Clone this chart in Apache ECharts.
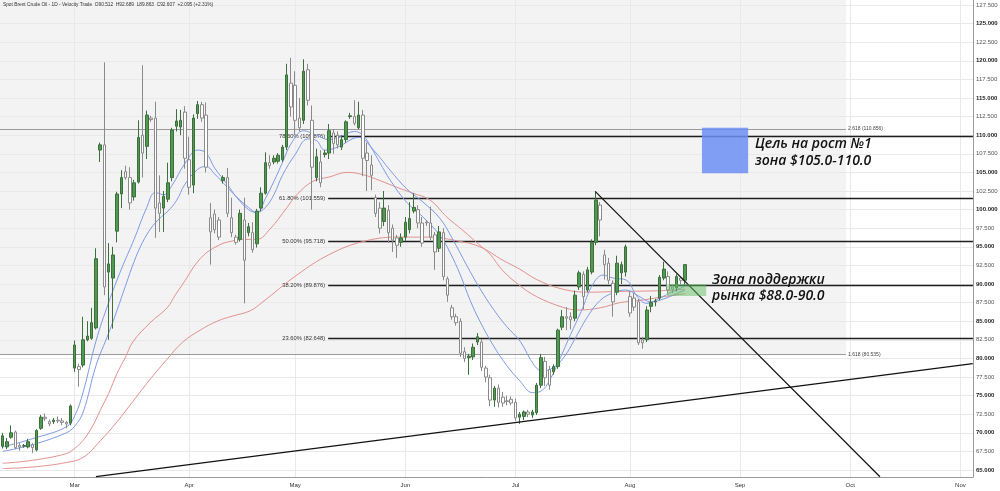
<!DOCTYPE html>
<html><head><meta charset="utf-8">
<script src="https://cdn.jsdelivr.net/npm/echarts@6/dist/echarts.min.js"></script>
<style>html,body{margin:0;padding:0;background:#fff}#c{width:1000px;height:491px}</style>
</head><body><div id="c"></div>
<script>
// ---- candles (one per session, index 0..161) ----
const opens = [68.2,68.1,69.4,70.1,68.3,68.2,68.1,68.4,67.7,70.6,72.1,71.5,71.5,71.7,71.6,71.4,71.3,78.7,78.9,79.1,82.5,82.7,84.1,108.0,108.7,91.6,90.8,97.1,102.1,105.1,104.3,101.7,103.7,110.0,108.5,112.3,112.3,100.9,100.2,101.4,104.3,111.2,111.1,113.1,106.7,103.3,112.9,114.1,112.7,98.9,99.4,98.6,103.9,104.3,98.9,96.3,96.0,98.6,96.9,96.9,95.4,100.2,102.2,106.3,106.4,106.5,106.7,108.4,117.0,116.7,112.3,112.0,118.8,112.0,104.3,106.4,107.4,107.6,110.3,110.0,108.4,109.4,112.5,112.5,111.0,112.7,107.6,106.0,101.6,100.2,98.4,99.9,97.5,96.2,95.6,96.3,97.3,99.8,100.0,98.2,98.3,98.2,96.6,94.8,96.9,90.7,86.8,85.6,85.0,80.9,80.1,80.2,82.2,82.2,78.7,77.4,74.4,76.0,74.8,74.3,74.5,74.1,72.1,72.2,72.8,72.4,72.7,76.4,79.6,78.5,78.2,78.9,84.2,85.6,85.6,85.4,89.6,91.3,89.2,91.6,95.6,100.6,93.9,92.8,90.1,88.9,91.5,91.6,88.3,88.1,87.6,82.5,82.5,87.0,87.6,88.1,90.8,91.0,89.6,89.5,90.8,90.512];
const closes = [69.6,68.8,70.0,68.0,68.1,68.3,68.8,68.0,70.3,72.1,71.9,71.2,71.7,71.6,71.4,71.2,73.6,81.8,78.5,82.5,83.0,84.8,93.4,108.7,89.6,92.7,93.9,102.1,104.3,104.3,100.9,103.6,109.7,107.6,112.7,112.1,100.2,99.5,101.8,103.6,110.7,111.9,112.0,106.9,103.0,112.3,114.1,112.3,105.7,97.0,97.3,96.3,104.3,99.5,96.9,95.6,99.5,93.2,97.7,94.6,99.8,102.2,106.3,105.9,106.9,107.3,108.4,118.1,113.8,112.0,111.0,118.6,114.7,105.7,107.1,103.6,107.6,110.6,108.9,108.7,109.4,111.8,112.6,111.6,112.7,106.9,106.6,104.6,99.5,97.5,100.2,96.9,95.9,95.2,96.2,98.3,98.8,100.3,98.2,95.5,98.2,96.3,94.3,97.0,91.0,88.5,85.6,84.8,80.7,80.0,80.3,81.5,82.9,78.8,77.5,74.4,76.0,74.1,74.0,74.2,74.0,72.0,72.5,72.8,72.5,72.8,76.4,80.1,77.4,76.4,78.9,83.8,85.6,85.4,85.2,88.5,91.5,88.3,91.9,95.6,101.3,98.6,92.6,90.5,87.6,92.8,92.6,95.0,86.1,86.9,82.1,82.1,86.5,87.5,87.7,90.9,92.0,89.2,89.3,91.0,90.5,92.607];
const lows = [67.9,67.8,69.2,67.8,67.6,68.0,67.9,67.3,67.5,70.4,71.6,70.9,71.2,71.3,71.0,70.6,71.0,78.2,76.2,78.8,82.3,82.5,83.9,106.4,88.5,82.5,84.0,95.6,100.2,104.0,100.0,101.2,103.5,104.3,106.8,111.8,96.2,97.0,97.0,101.0,103.8,110.5,110.0,105.5,102.0,102.2,112.2,111.8,105.0,92.6,96.8,95.9,103.5,99.0,96.3,95.3,95.7,87.4,96.4,94.2,94.9,99.8,102.0,105.5,106.1,106.2,106.4,108.0,112.5,110.0,110.5,111.5,114.0,100.0,103.8,103.0,107.0,106.8,107.5,108.2,108.0,109.0,112.2,111.3,110.8,104.5,102.5,102.6,99.0,96.8,97.8,95.5,94.3,93.5,95.0,95.8,96.8,99.5,97.5,95.0,97.8,95.9,91.9,94.3,90.5,87.6,85.2,84.4,80.2,79.5,77.8,79.8,81.8,78.3,76.8,73.6,73.5,73.4,73.5,73.7,73.7,71.6,71.2,71.7,72.1,72.0,72.4,76.0,76.3,75.8,77.8,78.6,83.8,83.8,83.9,85.0,89.2,86.6,88.9,91.3,95.2,96.4,90.6,90.0,85.6,88.5,90.0,91.0,85.6,86.4,81.8,81.3,82.2,86.2,87.0,87.8,90.5,88.7,88.8,89.0,89.9,89.863];
const highs = [70.0,69.3,71.0,70.3,68.6,68.5,69.2,68.6,70.5,72.4,72.6,71.8,72.0,72.2,72.0,71.6,73.8,82.4,79.3,85.6,85.0,86.8,94.8,109.0,119.8,95.5,95.0,102.4,105.3,105.9,105.7,104.0,112.0,119.4,113.3,112.6,114.5,104.6,102.5,106.3,111.0,113.5,113.4,113.9,109.8,112.8,114.6,114.5,114.4,100.9,100.0,99.0,104.6,105.6,101.6,96.6,100.0,101.6,98.2,98.3,100.1,103.0,107.7,107.3,107.3,107.6,108.7,119.6,120.4,118.6,115.0,120.2,119.6,114.0,108.2,108.0,108.0,111.5,110.8,110.5,110.0,112.0,113.0,114.7,114.5,113.4,109.0,107.3,102.0,101.0,102.5,100.6,98.0,96.6,96.8,99.0,101.0,102.2,100.6,99.0,98.6,100.4,97.0,97.8,97.5,91.0,87.2,86.0,85.4,81.5,80.6,82.0,83.4,82.6,79.0,77.8,76.3,76.5,75.5,75.0,74.9,74.6,72.8,73.0,73.1,73.1,76.7,80.6,80.2,79.0,79.2,84.0,86.5,86.9,86.2,89.1,91.8,91.7,92.3,96.0,102.4,101.0,94.6,93.5,90.5,93.8,93.0,95.3,89.0,88.8,88.0,82.9,87.0,88.4,88.0,91.2,93.0,91.7,90.0,91.3,91.0,92.689];

// ---- moving averages: [session index, price] ----
const blueFast = [[0,68.1],[7,69.2],[15,70.8],[17,72.3],[19,75.5],[22,82.3],[25,87.5],[28,92.0],[31,96.0],[34,100.3],[36,102.3],[38,102.0],[40,103.3],[43,106.2],[46,108.0],[48,107.6],[50,105.6],[53,103.4],[55,101.8],[58,100.0],[60,99.6],[62,101.5],[64,103.8],[66,106.3],[68,108.8],[71,110.6],[74,110.0],[77,109.4],[80,109.9],[83,110.5],[85,110.0],[87,108.3],[89,106.3],[91.4,104.0],[95.3,101.0],[99.2,99.0],[103.2,96.5],[105.5,94.3],[108,91.2],[110.3,87.8],[112.6,85.0],[115.7,81.8],[119,79.0],[122,77.0],[125,75.4],[127,75.6],[129,77.0],[131.5,80.0],[134,83.2],[136.5,86.3],[139.3,90.0],[141.7,91.2],[144,90.8],[147.2,90.5],[149.6,88.4],[152,87.4],[155,88.1],[158.2,89.0],[161,89.7]];
const blueSlow = [[0,67.5],[7,68.4],[15,70.0],[17,70.9],[19,72.8],[22,79.0],[25,83.4],[27,86.5],[29,89.8],[31,93.0],[33,95.6],[35,97.5],[37,98.8],[39,99.8],[41,101.2],[43,103.4],[46,105.4],[48,105.8],[50,104.8],[53,103.0],[55,101.8],[58,100.3],[60,99.6],[62,100.3],[64,102.0],[66,104.6],[69,107.4],[72,109.5],[74,109.3],[76,108.0],[79,108.4],[84,109.7],[87.5,108.0],[91.4,105.3],[95.3,102.8],[99.2,101.0],[103.2,98.8],[106.3,95.9],[109.5,92.5],[112.6,89.4],[115.8,86.6],[118.9,84.3],[122.1,82.3],[125.5,79.0],[127.5,78.3],[130,78.8],[132.5,80.2],[135,82.6],[138,85.6],[141,87.8],[144,88.8],[147,89.2],[150,88.4],[153,87.6],[156,88.0],[159,88.7],[161,89.2]];
const redFast = [[0,65.9],[7,66.3],[15,67.2],[17,67.9],[19,69.0],[21.3,71.0],[23,73.0],[25,75.3],[27,78.0],[29,80.2],[30.7,82.2],[34.8,84.8],[38.8,86.8],[40.7,88.5],[42.5,90.0],[46.6,93.4],[50.6,95.1],[54.3,95.8],[58.4,96.0],[60,96.0],[63.1,97.4],[67.1,100.3],[69.4,102.0],[73.2,103.8],[77.2,104.4],[81.2,105.0],[85,104.7],[89,103.9],[93,103.0],[96.8,102.2],[100.8,101.3],[104.8,99.0],[108.6,97.2],[112.6,95.2],[115,94.0],[118,91.8],[122,89.8],[126,88.3],[132,86.9],[136,86.5],[141,86.8],[145.7,87.5],[150.4,87.8],[155,88.2],[161,88.7]];
const redSlow = [[0,65.2],[7,65.4],[15,66.0],[19,66.7],[23,68.9],[27,71.5],[30.7,74.2],[34.8,77.2],[38.8,79.9],[42.5,82.2],[46.6,83.8],[50.6,85.0],[54.3,85.7],[58.4,86.4],[61.4,87.6],[69.4,91.2],[77.2,94.0],[85,95.7],[93,96.3],[100.8,96.3],[107.2,95.8],[112.6,95.0],[118,93.2],[122,92.0],[126,90.6],[131.5,89.4],[137.9,88.9],[145.7,89.0],[155,89.1],[161,89.3]];

// ---- axes ----
const monthLabels = ['Mar','Apr','May','Jun','Jul','Aug','Sep','Oct','Nov'];
const monthStartIndex = [17,44,69,95,121,148,174,200,226];
const priceTicks = [65,67.5,70,72.5,75,77.5,80,82.5,85,87.5,90,92.5,95,97.5,100,102.5,105,107.5,110,112.5,115,117.5,120,122.5,125,127.5];
const xRange = [-0.637, 228.96];
const yRange = [64.06, 128.17];

// ---- drawings ----
const fibLabels = ['78.60%','61.80%','50.00%','38.20%','23.60%'];
const fibValues = [109.876,101.559,95.718,89.876,82.648];
const fibStart = 76.8;
const extLabels = ['2.618','1.618'];
const extValues = [110.856,80.535];
const extEnd = 199.0;
const downTrend = [[139.8,102.45],[207.0,64.1]];
const upTrend = [[22,64.1],[228.9,79.3]];
const targetZone = [[165.0,111.0],[175.9,104.9]];
const supportZone = [[156.8,90.0],[166.0,88.4]];
const targetText = ['Цель на рост №1','зона $105.0-110.0'];
const targetTextAt = [177.5,107.7];
const supportText = ['Зона поддержки','рынка $88.0-90.0'];
const supportTextAt = [167.4,89.45];
const header = 'Spot Brent Crude Oil - 1D - Velocity Trade  O90.512  H92.689  L89.863  C92.607  +2.095 (+2.31%)';

const candleData = opens.map((o,i)=>[i,o,closes[i],lows[i],highs[i]]);
const noSym = ['none','none'];

const chart = echarts.init(document.getElementById('c'), null, {renderer:'canvas'});
chart.setOption({
  animation:false,
  backgroundColor:'#ffffff',
  title:{text:header,left:3,top:2,padding:0,textStyle:{fontSize:4.8,fontWeight:'normal',color:'#333',fontFamily:'Liberation Sans'}},
  grid:{left:0,right:27,top:0,bottom:14,containLabel:false,outerBoundsMode:'none'},
  xAxis:{type:'value',min:xRange[0],max:xRange[1],
    axisLine:{show:true,onZero:false,lineStyle:{color:'#9a9a9a',width:1}},
    axisTick:{show:false,customValues:monthStartIndex},
    splitLine:{show:false},
    axisLabel:{show:true,customValues:monthStartIndex,margin:5,fontSize:6,color:'#333',fontFamily:'Liberation Sans',
      formatter:v=>{const k=monthStartIndex.indexOf(Math.round(v));return k>=0?monthLabels[k]:'';}}},
  yAxis:{type:'value',position:'right',min:yRange[0],max:yRange[1],scale:true,
    axisLine:{show:true,onZero:false,lineStyle:{color:'#9a9a9a',width:1}},
    axisTick:{show:false,customValues:priceTicks},
    splitLine:{show:false},
    axisLabel:{show:true,customValues:priceTicks,margin:3,fontSize:6,fontFamily:'Liberation Sans',color:'#444',
      formatter:v=>{const s=v.toFixed(3);return (Math.abs(v/5-Math.round(v/5))<1e-6)?'{b|'+s+'}':'{n|'+s+'}';},
      rich:{b:{fontSize:6,fontWeight:'bold',color:'#222',fontFamily:'Liberation Sans'},n:{fontSize:6,color:'#555',fontFamily:'Liberation Sans'}}}},
  series:[
    { // background zone + grid lines
      type:'line',data:[],silent:true,z:0,
      markArea:{silent:true,z:0,itemStyle:{color:'#f3f3f3'},data:[[{coord:[xRange[0],extValues[1]]},{coord:[extEnd,yRange[1]]}]]},
      markLine:{silent:true,z:0.5,symbol:noSym,label:{show:false},lineStyle:{color:'#e9e9e9',width:1,type:'solid'},
        data:priceTicks.map(v=>({yAxis:v})).concat(monthStartIndex.map(v=>({xAxis:v})))}
    },
    { // fib extension lines
      type:'line',data:[],silent:true,z:1,
      markLine:{silent:true,z:1.5,symbol:noSym,lineStyle:{color:'#9a9a9a',width:1,type:'solid'},
        label:{show:true,position:'end',distance:2,formatter:'{b}',fontSize:5,color:'#444',fontFamily:'Liberation Sans',padding:[0,0,10,0]},
        data:extValues.map((v,i)=>[{name:extLabels[i]+' ('+v.toFixed(3)+')',coord:[xRange[0]+0.01,v]},{coord:[extEnd,v]}])}
    },
    { // fib retracement lines
      type:'line',data:[],silent:true,z:1,
      markLine:{silent:true,z:1.6,symbol:noSym,lineStyle:{color:'#1e1e1e',width:1.3,type:'solid'},
        label:{show:true,position:'start',distance:3,formatter:'{b}',fontSize:5.8,color:'#333',fontFamily:'Liberation Sans'},
        data:fibValues.map((v,i)=>[{name:fibLabels[i]+' ('+v.toFixed(3)+')',coord:[fibStart,v]},{coord:[xRange[1]-0.01,v]}])}
    },
    {type:'line',name:'redSlow',data:redSlow,smooth:0.4,showSymbol:false,symbol:'none',z:2,lineStyle:{color:'#e39090',width:1},silent:true},
    {type:'line',name:'redFast',data:redFast,smooth:0.4,showSymbol:false,symbol:'none',z:2,lineStyle:{color:'#e39090',width:1},silent:true},
    {type:'line',name:'blueSlow',data:blueSlow,smooth:0.4,showSymbol:false,symbol:'none',z:2,lineStyle:{color:'#7d9be4',width:1},silent:true},
    {type:'line',name:'blueFast',data:blueFast,smooth:0.4,showSymbol:false,symbol:'none',z:2,lineStyle:{color:'#7d9be4',width:1},silent:true},
    {type:'candlestick',name:'Brent',data:candleData,encode:{x:0,y:[1,2,3,4]},barWidth:3,z:3,silent:true,
      itemStyle:{color:'#4f9a4f',color0:'#ffffff',borderColor:'#3d6e3d',borderColor0:'#8a8a8a',borderWidth:1}},
    { // annotations
      type:'line',data:[],silent:true,z:4,
      markLine:{silent:true,z:4,symbol:noSym,label:{show:false},lineStyle:{color:'#111',width:1.2,type:'solid'},
        data:[[{coord:downTrend[0]},{coord:downTrend[1]}],[{coord:upTrend[0]},{coord:upTrend[1]}]]},
      markArea:{silent:true,z:4.5,data:[
        [{coord:targetZone[0],itemStyle:{color:'rgba(108,142,244,0.85)'}},{coord:targetZone[1]}],
        [{coord:supportZone[0],itemStyle:{color:'rgba(100,190,100,0.5)'}},{coord:supportZone[1]}]]},
      markPoint:{silent:true,z:6,symbol:'circle',symbolSize:0,
        label:{show:true,position:'right',distance:0,color:'#111',fontSize:14,fontStyle:'italic',fontWeight:600,fontFamily:'Open Sans',lineHeight:16.5,align:'left'},
        data:[{coord:targetTextAt,label:{formatter:targetText.join('\n')}},{coord:supportTextAt,label:{formatter:supportText.join('\n')}}]}
    }
  ]
});
</script></body></html>
